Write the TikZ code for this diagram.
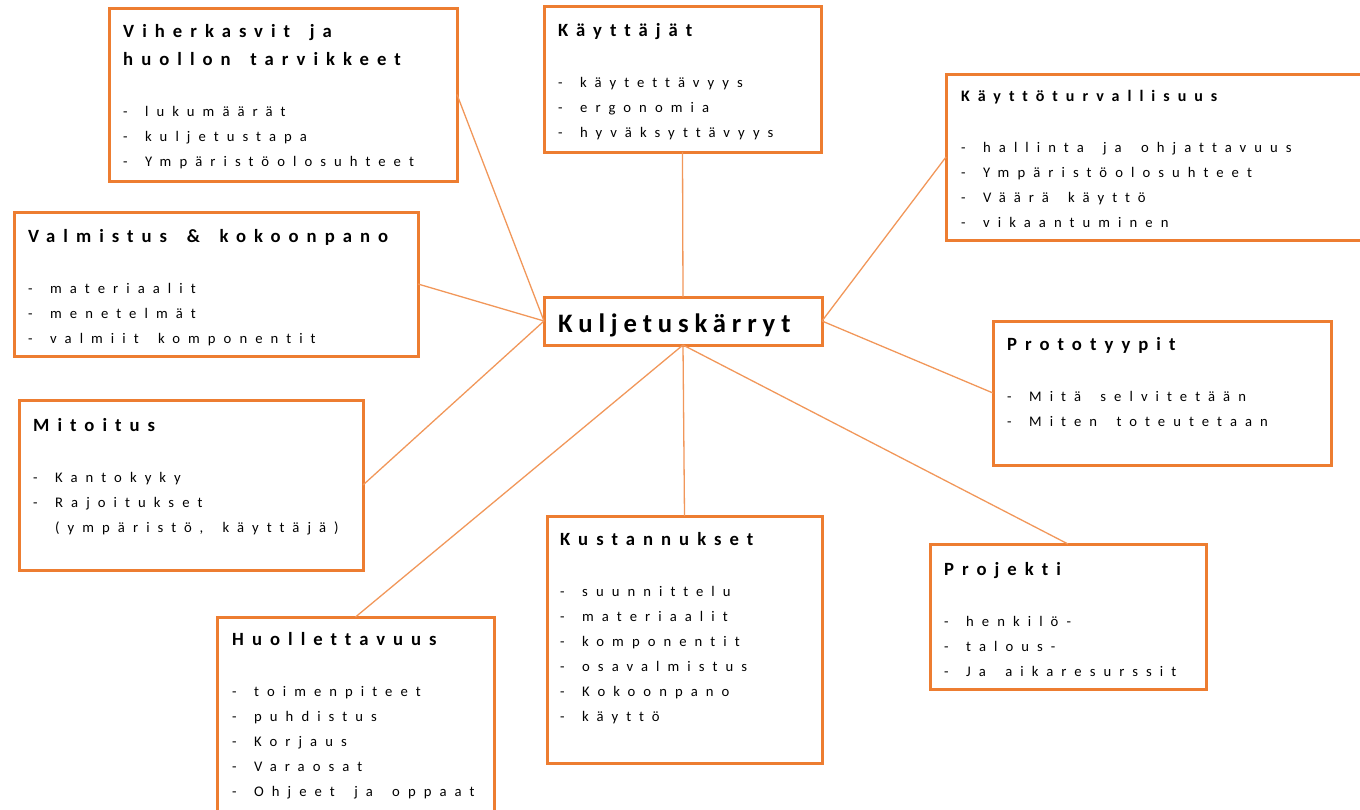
\documentclass[tikz,border=0pt]{standalone}
\usepackage{fontspec}
\setmainfont{Carlito}
\newfontfamily\bodyfam[LetterSpace=55,WordSpace=1.7,Ligatures=NoCommon]{Carlito}
\newfontfamily\ttlfam[LetterSpace=43,WordSpace=1.6,Ligatures=NoCommon]{Carlito}
\newfontfamily\smlfam[LetterSpace=50,WordSpace=1.6,Ligatures=NoCommon]{Carlito}
\newfontfamily\hubfam[LetterSpace=22,WordSpace=1.5,Ligatures=NoCommon]{Carlito}
\usetikzlibrary{positioning}
\definecolor{borange}{HTML}{ED7D31}
\newcommand{\ttl}[1]{{\ttlfam\bfseries\fontsize{18.67}{28}\selectfont #1}}
\newcommand{\ttls}[1]{{\smlfam\bfseries\fontsize{16}{28}\selectfont #1}}
\newcommand{\itm}[1]{\makebox[22pt][l]{-}#1}
\newcommand{\lst}[1]{\begin{tabular}[t]{@{}l@{}}#1\end{tabular}}

\begin{document}
\begin{tikzpicture}[
  x=1pt, y=-1pt,
  box/.style={draw=borange, line width=3pt, fill=white, inner sep=0pt,
              outer sep=0pt, anchor=north west},
  txt/.style={anchor=base west, inner sep=0pt,
              font=\bodyfam\fontsize{14.67}{25}\selectfont},
  ln/.style={draw=borange!80, line width=1.3pt}
]
\clip (0,0) rectangle (1360,809);
% boxes
\node[box, minimum width=348pt, minimum height=173pt] (vih) at (109,8) {};
\node[box, minimum width=277pt, minimum height=146pt] (kay) at (544,6) {};
\node[box, minimum width=430pt, minimum height=166pt] (tur) at (946,74) {};
\node[box, minimum width=404pt, minimum height=144pt] (val) at (14,212) {};
\node[box, minimum width=278pt, minimum height=48pt]  (kul) at (544,297) {};
\node[box, minimum width=338pt, minimum height=144pt] (pro) at (993,321) {};
\node[box, minimum width=344pt, minimum height=170pt] (mit) at (19,400) {};
\node[box, minimum width=275pt, minimum height=247pt] (kus) at (547,516) {};
\node[box, minimum width=276pt, minimum height=145pt] (prj) at (930,544) {};
\node[box, minimum width=277pt, minimum height=215pt] (huo) at (217,617) {};
% texts
\node[txt] (vih-t) at ([shift={(14,29)}]vih.north west)
  {\lst{\ttl{Viherkasvit ja}\\[3pt]\ttl{huollon tarvikkeet}\\[26pt]
   \itm{lukumäärät}\\\itm{kuljetustapa}\\\itm{Ympäristöolosuhteet}}};
\node[txt] (kay-t) at ([shift={(14,30)}]kay.north west)
  {\lst{\ttl{Käyttäjät}\\[26pt]
   \itm{käytettävyys}\\\itm{ergonomia}\\\itm{hyväksyttävyys}}};
\node[txt] (tur-t) at ([shift={(15,27)}]tur.north west)
  {\lst{\ttls{Käyttöturvallisuus}\\[26pt]
   \itm{hallinta ja ohjattavuus}\\\itm{Ympäristöolosuhteet}\\
   \itm{Väärä käyttö}\\\itm{vikaantuminen}}};
\node[txt] (val-t) at ([shift={(14,30)}]val.north west)
  {\lst{\ttl{Valmistus \& kokoonpano}\\[26pt]
   \itm{materiaalit}\\\itm{menetelmät}\\\itm{valmiit komponentit}}};
\node[txt] (pro-t) at ([shift={(14,29)}]pro.north west)
  {\lst{\ttl{Prototyypit}\\[26pt]
   \itm{Mitä selvitetään}\\\itm{Miten toteutetaan}}};
\node[txt] (mit-t) at ([shift={(14,31)}]mit.north west)
  {\lst{\ttl{Mitoitus}\\[26pt]
   \itm{Kantokyky}\\\itm{Rajoitukset}\\\hspace*{22pt}(ympäristö, käyttäjä)}};
\node[txt] (kus-t) at ([shift={(13,29)}]kus.north west)
  {\lst{\ttl{Kustannukset}\\[26pt]
   \itm{suunnittelu}\\\itm{materiaalit}\\\itm{komponentit}\\
   \itm{osavalmistus}\\\itm{Kokoonpano}\\\itm{käyttö}}};
\node[txt] (prj-t) at ([shift={(14,31)}]prj.north west)
  {\lst{\ttl{Projekti}\\[26pt]
   \itm{henkilö-}\\\itm{talous-}\\\itm{Ja aikaresurssit}}};
\node[txt] (huo-t) at ([shift={(15,28)}]huo.north west)
  {\lst{\ttl{Huollettavuus}\\[26pt]
   \itm{toimenpiteet}\\\itm{puhdistus}\\\itm{Korjaus}\\
   \itm{Varaosat}\\\itm{Ohjeet ja oppaat}}};
\node[anchor=base west, inner sep=0pt,
      font=\hubfam\bfseries\fontsize{26.67}{30}\selectfont]
  (kul-t) at ([shift={(14,35)}]kul.north west) {Kuljetuskärryt};
% connectors
\draw[ln] (vih.east) -- (kul.west);
\draw[ln] (val.east) -- (kul.west);
\draw[ln] (mit.east) -- (kul.west);
\draw[ln] (kay.south) -- (kul.north);
\draw[ln] (tur.west) -- (kul.east);
\draw[ln] (pro.west) -- (kul.east);
\draw[ln] (huo.north) -- (kul.south);
\draw[ln] (kus.north) -- (kul.south);
\draw[ln] (prj.north) -- (kul.south);
\end{tikzpicture}
\end{document}
